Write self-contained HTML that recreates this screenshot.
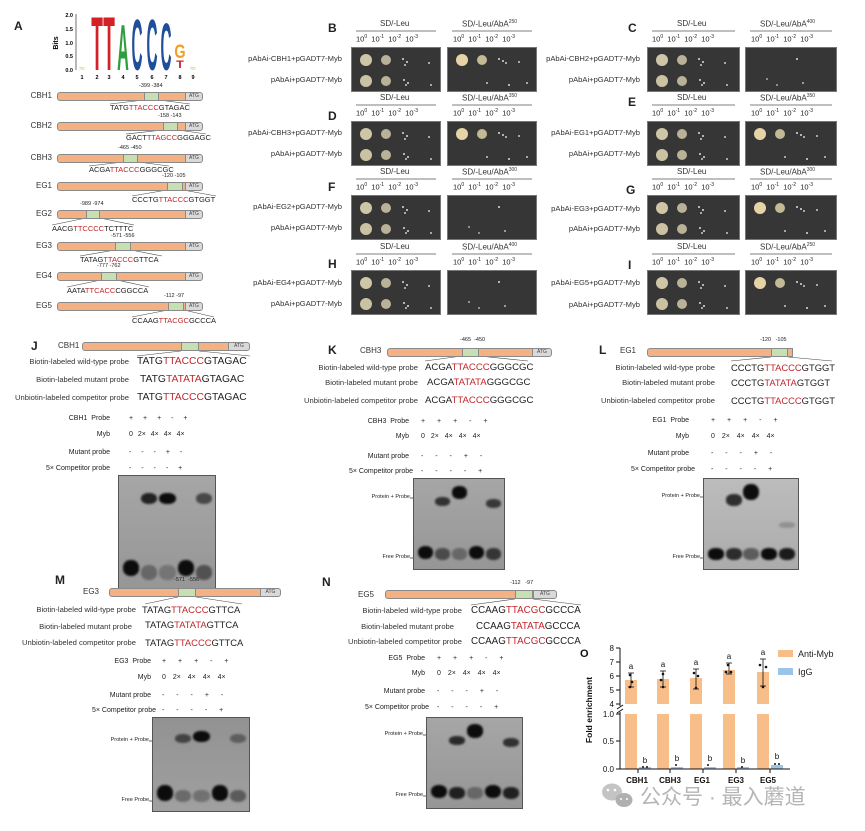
<!DOCTYPE html>
<html><head><meta charset="utf-8">
<style>
body{margin:0;background:#fff;width:865px;height:831px;position:relative;overflow:hidden;font-family:"Liberation Sans",sans-serif;color:#222}
.t{position:absolute;white-space:nowrap;line-height:1}
.r{color:#c0282d}
.L{font-weight:bold;font-size:12px}
.bar{position:absolute;background:#f4b183;border:1px solid #8a8a8a;border-radius:3px 0 0 3px;box-sizing:border-box}
.gr{position:absolute;background:#c6e0b4;border:1px solid #8a8a8a;box-sizing:border-box}
.atg{position:absolute;background:#d9d9d9;border:1px solid #8a8a8a;box-sizing:border-box;font-size:5px;color:#444;text-align:center;border-radius:0 3px 3px 0}
.p{position:absolute;width:90px;height:45px;background:#363636;border:1px solid #777;box-sizing:border-box}
.p::before{content:"";position:absolute;left:8px;top:6px;width:12px;height:12px;border-radius:50%;background:#cfc6a8}
.p::after{content:"";position:absolute;left:50px;top:10px;width:2px;height:2px;border-radius:50%;background:#ddd}
.sd::before{box-shadow:20px 0 0 -1px #b9b299,0 21px 0 0 #cbc2a3,20px 21px 0 -1px #b9b299}
.sd::after{box-shadow:4px 3px #ddd,2px 6px #ccc,26px 4px #ccc,1px 21px #ddd,5px 24px #ddd,3px 26px #ccc,28px 26px #ccc}
.pos::before{background:#e6d4a6;box-shadow:20px 0 0 -1px #c3b995}
.pos::after{box-shadow:4px 2px #ddd,7px 4px #ccc,20px 3px #ccc,-12px 24px #ccc,10px 26px #ddd,28px 24px #ccc}
.neg::before{background:transparent}
.neg::after{box-shadow:-30px 20px #aaa,6px 24px #bbb,-20px 26px #aaa}
.g{position:absolute;background:linear-gradient(#a6a6a6,#969696);border:1px solid #555;overflow:hidden;box-sizing:border-box}
.b{position:absolute;width:17%;border-radius:45%;background:#0c0c0c;filter:blur(1.1px)}
.f{top:77%;height:13%}.cx{top:15%;height:10%}
.l1{left:4%}.l2{left:23%}.l3{left:42%}.l4{left:61%}.l5{left:80%}
.sm{font-size:7px}
.lab{font-size:7.6px;color:#333}
.hd{font-size:8px;color:#333}
.ex{font-size:7.5px;color:#222}
.ex sup{font-size:5px}
.hd sup{font-size:5px}
.pl{font-size:8px;color:#333}
</style></head><body>

<div class="t L" style="left:14px;top:20px">A</div>
<svg style="position:absolute;left:0;top:0" width="865" height="831">
<g font-family="Liberation Sans" font-weight="bold">
<text x="58" y="43" font-size="7" transform="rotate(-90 58 43)" text-anchor="middle">Bits</text>
<g font-size="5.5" text-anchor="end"><text x="73" y="17">2.0</text><text x="73" y="31">1.5</text><text x="73" y="45">1.0</text><text x="73" y="58">0.5</text><text x="73" y="72">0.0</text></g>
<line x1="76" y1="14" x2="76" y2="70" stroke="#333" stroke-width="0.7"/>
<g font-size="5.5" text-anchor="middle"><text x="82" y="79">1</text><text x="97" y="79">2</text><text x="109" y="79">3</text><text x="123" y="79">4</text><text x="137" y="79">5</text><text x="152" y="79">6</text><text x="166" y="79">7</text><text x="180" y="79">8</text><text x="193" y="79">9</text></g>
<text transform="translate(97,70) scale(0.95,3.8)" font-size="20" fill="#d42027" text-anchor="middle">T</text>
<text transform="translate(109,70) scale(0.95,3.8)" font-size="20" fill="#d42027" text-anchor="middle">T</text>
<text transform="translate(123,70) scale(0.9,3.6)" font-size="18" fill="#2e9e3f" text-anchor="middle">A</text>
<text transform="translate(137,70) scale(0.85,4.0)" font-size="18" fill="#1f4e9a" text-anchor="middle">C</text>
<text transform="translate(152,70) scale(0.85,4.0)" font-size="18" fill="#1f4e9a" text-anchor="middle">C</text>
<text transform="translate(166,70) scale(0.85,3.7)" font-size="18" fill="#1f4e9a" text-anchor="middle">C</text>
<text transform="translate(180,58) scale(0.8,1.1)" font-size="18" fill="#f0a020" text-anchor="middle">G</text>
<text transform="translate(180,68) scale(0.9,0.8)" font-size="14" fill="#d42027" text-anchor="middle">T</text>
<text transform="translate(82,70) scale(1,0.5)" font-size="10" fill="#e0b040" text-anchor="middle">≈</text>
<text transform="translate(193,70) scale(1,0.5)" font-size="10" fill="#e0b040" text-anchor="middle">≈</text>
</g>
<g stroke="#444" stroke-width="0.6" fill="none">
<path d="M144 100L110 104M159 100L190 104"/>
<path d="M163 130L126 134M178 130L206 134"/>
<path d="M123 162L89 166M138 162L169 166"/>
<path d="M167 190L132 196M183 190L216 196"/>
<path d="M86 218L52 225M100 218L134 225"/>
<path d="M115 250L80 256M131 250L162 256"/>
<path d="M101 280L67 287M117 280L149 287"/>
<path d="M168 310L132 317M184 310L214 317"/>
<path d="M181 351L137 356M199 351L250 356"/>
<path d="M462 356L425 361M479 356L528 361"/>
<path d="M771 357L731 361M788 357L832 361"/>
<path d="M178 597L145 604M196 597L242 604"/>
<path d="M515 599L471 605M533 599L581 605"/>
</g>
<g stroke="#555" stroke-width="0.7">
<line x1="356" y1="31" x2="436" y2="31"/><line x1="452" y1="31" x2="532" y2="31"/>
<line x1="356" y1="105" x2="436" y2="105"/><line x1="452" y1="105" x2="532" y2="105"/>
<line x1="356" y1="179" x2="436" y2="179"/><line x1="452" y1="179" x2="532" y2="179"/>
<line x1="356" y1="254" x2="436" y2="254"/><line x1="452" y1="254" x2="532" y2="254"/>
<line x1="652" y1="31" x2="735" y2="31"/><line x1="750" y1="31" x2="832" y2="31"/>
<line x1="652" y1="105" x2="735" y2="105"/><line x1="750" y1="105" x2="832" y2="105"/>
<line x1="652" y1="179" x2="735" y2="179"/><line x1="750" y1="179" x2="832" y2="179"/>
<line x1="652" y1="254" x2="735" y2="254"/><line x1="750" y1="254" x2="832" y2="254"/>
</g>
<g stroke="#222" stroke-width="0.7">
<line x1="410" y1="498" x2="414" y2="498"/><line x1="410" y1="558" x2="414" y2="558"/>
<line x1="700" y1="497" x2="704" y2="497"/><line x1="700" y1="558" x2="704" y2="558"/>
<line x1="149" y1="741" x2="153" y2="741"/><line x1="149" y1="801" x2="153" y2="801"/>
<line x1="423" y1="735" x2="427" y2="735"/><line x1="423" y1="796" x2="427" y2="796"/>
</g>
<g font-family="Liberation Sans">
<g fill="#f7be8a">
<rect x="625" y="680" width="12" height="24"/><rect x="625" y="714" width="12" height="55"/>
<rect x="657" y="679" width="12" height="25"/><rect x="657" y="714" width="12" height="55"/>
<rect x="690" y="678" width="12" height="26"/><rect x="690" y="714" width="12" height="55"/>
<rect x="723" y="670" width="12" height="34"/><rect x="723" y="714" width="12" height="55"/>
<rect x="757" y="672" width="12" height="32"/><rect x="757" y="714" width="12" height="55"/>
</g>
<g fill="#9dc3e6"><rect x="639" y="767" width="12" height="2"/><rect x="671" y="767" width="12" height="2"/><rect x="704" y="767" width="12" height="2"/><rect x="737" y="767" width="12" height="2"/><rect x="771" y="765" width="12" height="4"/></g>
<g stroke="#111" stroke-width="0.8">
<line x1="631" y1="673" x2="631" y2="687"/><line x1="628" y1="673" x2="634" y2="673"/><line x1="628" y1="687" x2="634" y2="687"/>
<line x1="663" y1="671" x2="663" y2="687"/><line x1="660" y1="671" x2="666" y2="671"/><line x1="660" y1="687" x2="666" y2="687"/>
<line x1="696" y1="669" x2="696" y2="689"/><line x1="693" y1="669" x2="699" y2="669"/><line x1="693" y1="689" x2="699" y2="689"/>
<line x1="729" y1="663" x2="729" y2="674"/><line x1="726" y1="663" x2="732" y2="663"/><line x1="726" y1="674" x2="732" y2="674"/>
<line x1="763" y1="659" x2="763" y2="686"/><line x1="760" y1="659" x2="766" y2="659"/><line x1="760" y1="686" x2="766" y2="686"/>
</g>
<g fill="#111">
<circle cx="630" cy="675" r="1.3"/><circle cx="632" cy="682" r="1.3"/><circle cx="630" cy="687" r="1.3"/>
<circle cx="663" cy="674" r="1.3"/><circle cx="661" cy="680" r="1.3"/><circle cx="663" cy="687" r="1.3"/>
<circle cx="694" cy="673" r="1.3"/><circle cx="698" cy="676" r="1.3"/><circle cx="696" cy="688" r="1.3"/>
<circle cx="728" cy="665" r="1.3"/><circle cx="726" cy="672" r="1.3"/><circle cx="731" cy="672" r="1.3"/>
<circle cx="760" cy="665" r="1.3"/><circle cx="766" cy="667" r="1.3"/><circle cx="763" cy="687" r="1.3"/>
<circle cx="643" cy="767" r="1"/><circle cx="647" cy="767" r="1"/><circle cx="676" cy="765" r="1"/><circle cx="708" cy="765" r="1"/><circle cx="742" cy="767" r="1"/><circle cx="775" cy="764" r="1"/><circle cx="779" cy="764" r="1"/>
</g>
<g stroke="#111" stroke-width="1" fill="none">
<line x1="620" y1="648" x2="620" y2="706"/><line x1="620" y1="712" x2="620" y2="769"/>
<line x1="617" y1="709" x2="623" y2="705"/><line x1="617" y1="713" x2="623" y2="709"/>
<line x1="620" y1="769" x2="790" y2="769"/>
<line x1="616" y1="648" x2="620" y2="648"/><line x1="616" y1="662" x2="620" y2="662"/><line x1="616" y1="676" x2="620" y2="676"/><line x1="616" y1="690" x2="620" y2="690"/><line x1="616" y1="704" x2="620" y2="704"/>
<line x1="616" y1="714" x2="620" y2="714"/><line x1="616" y1="741" x2="620" y2="741"/><line x1="616" y1="769" x2="620" y2="769"/>
<line x1="638" y1="769" x2="638" y2="773"/><line x1="670" y1="769" x2="670" y2="773"/><line x1="703" y1="769" x2="703" y2="773"/><line x1="736" y1="769" x2="736" y2="773"/><line x1="770" y1="769" x2="770" y2="773"/>
</g>
<g font-size="8" text-anchor="end" fill="#111"><text x="614" y="651">8</text><text x="614" y="665">7</text><text x="614" y="679">6</text><text x="614" y="693">5</text><text x="614" y="707">4</text><text x="614" y="717">1.0</text><text x="614" y="744">0.5</text><text x="614" y="772">0.0</text></g>
<g font-size="8" text-anchor="middle" fill="#111"><text x="631" y="669">a</text><text x="663" y="667">a</text><text x="696" y="665">a</text><text x="729" y="659">a</text><text x="763" y="655">a</text>
<text x="645" y="763">b</text><text x="677" y="761">b</text><text x="710" y="761">b</text><text x="743" y="763">b</text><text x="777" y="759">b</text></g>
<g font-size="8" font-weight="bold" text-anchor="middle" fill="#111"><text x="637" y="783">CBH1</text><text x="670" y="783">CBH3</text><text x="702" y="783">EG1</text><text x="736" y="783">EG3</text><text x="768" y="783">EG5</text></g>
<text x="592" y="710" font-size="8.5" font-weight="bold" text-anchor="middle" transform="rotate(-90 592 710)" fill="#111">Fold enrichment</text>
<text x="580" y="657" font-size="11" font-weight="bold" fill="#111">O</text>
<rect x="778" y="650" width="15" height="7" fill="#f7be8a"/><text x="798" y="657" font-size="9" fill="#222">Anti-Myb</text>
<rect x="778" y="668" width="15" height="7" fill="#9dc3e6"/><text x="798" y="675" font-size="9" fill="#222">IgG</text>
</g>
<g fill="#c4c4c4"><ellipse cx="612" cy="792" rx="10" ry="8.5"/><ellipse cx="624" cy="800" rx="8.5" ry="7" fill="#b0b0b0"/></g>
<g fill="#fff"><circle cx="608" cy="790" r="1.3"/><circle cx="615" cy="790" r="1.3"/><circle cx="621" cy="799" r="1"/><circle cx="627" cy="799" r="1"/></g>
</svg>

<div class="t pl" style="right:813px;top:92px">CBH1</div>
<div class="bar" style="left:57px;top:92px;width:130px;height:9px"></div><div class="gr" style="left:144px;top:92px;width:15px;height:9px"></div><div class="atg" style="left:185px;top:92px;width:18px;height:9px">ATG</div>
<div class="t" style="left:139px;top:84px;font-size:5.5px">-399 -384</div>
<div class="t" style="left:110px;top:104px;font-size:7.5px">TATG<span class="r">TTACCC</span>GTAGAC</div>

<div class="t pl" style="right:813px;top:122px">CBH2</div>
<div class="bar" style="left:57px;top:122px;width:130px;height:9px"></div><div class="gr" style="left:163px;top:122px;width:15px;height:9px"></div><div class="atg" style="left:185px;top:122px;width:18px;height:9px">ATG</div>
<div class="t" style="left:158px;top:114px;font-size:5.5px">-158 -143</div>
<div class="t" style="left:126px;top:134px;font-size:7.5px">GACT<span class="r">TTAGCC</span>GGGAGC</div>

<div class="t pl" style="right:813px;top:154px">CBH3</div>
<div class="bar" style="left:57px;top:154px;width:130px;height:9px"></div><div class="gr" style="left:123px;top:154px;width:15px;height:9px"></div><div class="atg" style="left:185px;top:154px;width:18px;height:9px">ATG</div>
<div class="t" style="left:118px;top:146px;font-size:5.5px">-465 -450</div>
<div class="t" style="left:89px;top:166px;font-size:7.5px">ACGA<span class="r">TTACCC</span>GGGCGC</div>

<div class="t pl" style="right:813px;top:182px">EG1</div>
<div class="bar" style="left:57px;top:182px;width:130px;height:9px"></div><div class="gr" style="left:167px;top:182px;width:16px;height:9px"></div><div class="atg" style="left:185px;top:182px;width:18px;height:9px">ATG</div>
<div class="t" style="left:162px;top:174px;font-size:5.5px">-120 -105</div>
<div class="t" style="left:132px;top:196px;font-size:7.5px">CCCTG<span class="r">TTACCC</span>GTGGT</div>

<div class="t pl" style="right:813px;top:210px">EG2</div>
<div class="bar" style="left:57px;top:210px;width:130px;height:9px"></div><div class="gr" style="left:86px;top:210px;width:14px;height:9px"></div><div class="atg" style="left:185px;top:210px;width:18px;height:9px">ATG</div>
<div class="t" style="left:80px;top:202px;font-size:5.5px">-989 -974</div>
<div class="t" style="left:52px;top:225px;font-size:7.5px">AACG<span class="r">TTCCCC</span>TCTTTC</div>

<div class="t pl" style="right:813px;top:242px">EG3</div>
<div class="bar" style="left:57px;top:242px;width:130px;height:9px"></div><div class="gr" style="left:115px;top:242px;width:16px;height:9px"></div><div class="atg" style="left:185px;top:242px;width:18px;height:9px">ATG</div>
<div class="t" style="left:111px;top:234px;font-size:5.5px">-571 -556</div>
<div class="t" style="left:80px;top:256px;font-size:7.5px">TATAG<span class="r">TTACCC</span>GTTCA</div>

<div class="t pl" style="right:813px;top:272px">EG4</div>
<div class="bar" style="left:57px;top:272px;width:130px;height:9px"></div><div class="gr" style="left:101px;top:272px;width:16px;height:9px"></div><div class="atg" style="left:185px;top:272px;width:18px;height:9px">ATG</div>
<div class="t" style="left:97px;top:264px;font-size:5.5px">-777 -762</div>
<div class="t" style="left:67px;top:287px;font-size:7.5px">AATA<span class="r">TTCACC</span>CGGCCA</div>

<div class="t pl" style="right:813px;top:302px">EG5</div>
<div class="bar" style="left:57px;top:302px;width:130px;height:9px"></div><div class="gr" style="left:168px;top:302px;width:16px;height:9px"></div><div class="atg" style="left:185px;top:302px;width:18px;height:9px">ATG</div>
<div class="t" style="left:164px;top:294px;font-size:5.5px">-112 -97</div>
<div class="t" style="left:132px;top:317px;font-size:7.5px">CCAAG<span class="r">TTACGC</span>GCCCA</div>

<div class="t L" style="left:328px;top:22px">B</div>
<div class="t hd" style="left:380px;top:20px">SD/-Leu</div><div class="t hd" style="left:462px;top:20px">SD/-Leu/AbA<sup>250</sup></div>
<div class="t ex" style="left:356px;top:35px">10<sup>0</sup>&nbsp; 10<sup>-1</sup>&nbsp; 10<sup>-2</sup>&nbsp; 10<sup>-3</sup></div><div class="t ex" style="left:453px;top:35px">10<sup>0</sup>&nbsp; 10<sup>-1</sup>&nbsp; 10<sup>-2</sup>&nbsp; 10<sup>-3</sup></div>
<div class="t lab" style="right:523px;top:55px">pAbAi-CBH1+pGADT7-Myb</div><div class="t lab" style="right:523px;top:76px">pAbAi+pGADT7-Myb</div>
<div class="p sd" style="left:351px;top:47px"></div><div class="p pos" style="left:447px;top:47px"></div>

<div class="t L" style="left:328px;top:110px">D</div>
<div class="t hd" style="left:380px;top:94px">SD/-Leu</div><div class="t hd" style="left:462px;top:94px">SD/-Leu/AbA<sup>350</sup></div>
<div class="t ex" style="left:356px;top:109px">10<sup>0</sup>&nbsp; 10<sup>-1</sup>&nbsp; 10<sup>-2</sup>&nbsp; 10<sup>-3</sup></div><div class="t ex" style="left:453px;top:109px">10<sup>0</sup>&nbsp; 10<sup>-1</sup>&nbsp; 10<sup>-2</sup>&nbsp; 10<sup>-3</sup></div>
<div class="t lab" style="right:523px;top:129px">pAbAi-CBH3+pGADT7-Myb</div><div class="t lab" style="right:523px;top:150px">pAbAi+pGADT7-Myb</div>
<div class="p sd" style="left:351px;top:121px"></div><div class="p pos" style="left:447px;top:121px"></div>

<div class="t L" style="left:328px;top:181px">F</div>
<div class="t hd" style="left:380px;top:168px">SD/-Leu</div><div class="t hd" style="left:462px;top:168px">SD/-Leu/AbA<sup>300</sup></div>
<div class="t ex" style="left:356px;top:183px">10<sup>0</sup>&nbsp; 10<sup>-1</sup>&nbsp; 10<sup>-2</sup>&nbsp; 10<sup>-3</sup></div><div class="t ex" style="left:453px;top:183px">10<sup>0</sup>&nbsp; 10<sup>-1</sup>&nbsp; 10<sup>-2</sup>&nbsp; 10<sup>-3</sup></div>
<div class="t lab" style="right:523px;top:203px">pAbAi-EG2+pGADT7-Myb</div><div class="t lab" style="right:523px;top:224px">pAbAi+pGADT7-Myb</div>
<div class="p sd" style="left:351px;top:195px"></div><div class="p neg" style="left:447px;top:195px"></div>

<div class="t L" style="left:328px;top:258px">H</div>
<div class="t hd" style="left:380px;top:243px">SD/-Leu</div><div class="t hd" style="left:462px;top:243px">SD/-Leu/AbA<sup>400</sup></div>
<div class="t ex" style="left:356px;top:258px">10<sup>0</sup>&nbsp; 10<sup>-1</sup>&nbsp; 10<sup>-2</sup>&nbsp; 10<sup>-3</sup></div><div class="t ex" style="left:453px;top:258px">10<sup>0</sup>&nbsp; 10<sup>-1</sup>&nbsp; 10<sup>-2</sup>&nbsp; 10<sup>-3</sup></div>
<div class="t lab" style="right:523px;top:279px">pAbAi-EG4+pGADT7-Myb</div><div class="t lab" style="right:523px;top:300px">pAbAi+pGADT7-Myb</div>
<div class="p sd" style="left:351px;top:270px"></div><div class="p neg" style="left:447px;top:270px"></div>

<div class="t L" style="left:628px;top:22px">C</div>
<div class="t hd" style="left:677px;top:20px">SD/-Leu</div><div class="t hd" style="left:760px;top:20px">SD/-Leu/AbA<sup>400</sup></div>
<div class="t ex" style="left:652px;top:35px">10<sup>0</sup>&nbsp; 10<sup>-1</sup>&nbsp; 10<sup>-2</sup>&nbsp; 10<sup>-3</sup></div><div class="t ex" style="left:751px;top:35px">10<sup>0</sup>&nbsp; 10<sup>-1</sup>&nbsp; 10<sup>-2</sup>&nbsp; 10<sup>-3</sup></div>
<div class="t lab" style="right:225px;top:55px">pAbAi-CBH2+pGADT7-Myb</div><div class="t lab" style="right:225px;top:76px">pAbAi+pGADT7-Myb</div>
<div class="p sd" style="left:647px;top:47px;width:93px"></div><div class="p neg" style="left:745px;top:47px;width:92px"></div>

<div class="t L" style="left:628px;top:96px">E</div>
<div class="t hd" style="left:677px;top:94px">SD/-Leu</div><div class="t hd" style="left:760px;top:94px">SD/-Leu/AbA<sup>350</sup></div>
<div class="t ex" style="left:652px;top:109px">10<sup>0</sup>&nbsp; 10<sup>-1</sup>&nbsp; 10<sup>-2</sup>&nbsp; 10<sup>-3</sup></div><div class="t ex" style="left:751px;top:109px">10<sup>0</sup>&nbsp; 10<sup>-1</sup>&nbsp; 10<sup>-2</sup>&nbsp; 10<sup>-3</sup></div>
<div class="t lab" style="right:225px;top:129px">pAbAi-EG1+pGADT7-Myb</div><div class="t lab" style="right:225px;top:150px">pAbAi+pGADT7-Myb</div>
<div class="p sd" style="left:647px;top:121px;width:93px"></div><div class="p pos" style="left:745px;top:121px;width:92px"></div>

<div class="t L" style="left:626px;top:184px">G</div>
<div class="t hd" style="left:677px;top:168px">SD/-Leu</div><div class="t hd" style="left:760px;top:168px">SD/-Leu/AbA<sup>300</sup></div>
<div class="t ex" style="left:652px;top:183px">10<sup>0</sup>&nbsp; 10<sup>-1</sup>&nbsp; 10<sup>-2</sup>&nbsp; 10<sup>-3</sup></div><div class="t ex" style="left:751px;top:183px">10<sup>0</sup>&nbsp; 10<sup>-1</sup>&nbsp; 10<sup>-2</sup>&nbsp; 10<sup>-3</sup></div>
<div class="t lab" style="right:225px;top:205px">pAbAi-EG3+pGADT7-Myb</div><div class="t lab" style="right:225px;top:225px">pAbAi+pGADT7-Myb</div>
<div class="p sd" style="left:647px;top:195px;width:93px"></div><div class="p pos" style="left:745px;top:195px;width:92px"></div>

<div class="t L" style="left:628px;top:259px">I</div>
<div class="t hd" style="left:677px;top:243px">SD/-Leu</div><div class="t hd" style="left:760px;top:243px">SD/-Leu/AbA<sup>250</sup></div>
<div class="t ex" style="left:652px;top:258px">10<sup>0</sup>&nbsp; 10<sup>-1</sup>&nbsp; 10<sup>-2</sup>&nbsp; 10<sup>-3</sup></div><div class="t ex" style="left:751px;top:258px">10<sup>0</sup>&nbsp; 10<sup>-1</sup>&nbsp; 10<sup>-2</sup>&nbsp; 10<sup>-3</sup></div>
<div class="t lab" style="right:225px;top:279px">pAbAi-EG5+pGADT7-Myb</div><div class="t lab" style="right:225px;top:301px">pAbAi+pGADT7-Myb</div>
<div class="p sd" style="left:647px;top:270px;width:93px"></div><div class="p pos" style="left:745px;top:270px;width:92px"></div>

<div class="t L" style="left:31px;top:340px">J</div>
<div class="t pl" style="left:58px;top:342px">CBH1</div>
<div class="bar" style="left:82px;top:342px;width:148px;height:9px"></div><div class="gr" style="left:181px;top:342px;width:18px;height:9px"></div><div class="atg" style="left:228px;top:342px;width:22px;height:9px">ATG</div>
<div class="t lab" style="right:736px;top:358px">Biotin-labeled wild-type probe</div>
<div class="t lab" style="right:736px;top:376px">Biotin-labeled mutant probe</div>
<div class="t lab" style="right:736px;top:394px">Unbiotin-labeled competitor probe</div>
<div class="t" style="left:137px;top:357px;font-size:10.3px">TATG<span class="r">TTACCC</span>GTAGAC</div>
<div class="t" style="left:140px;top:375px;font-size:10.3px">TATG<span class="r">TATATA</span>GTAGAC</div>
<div class="t" style="left:137px;top:393px;font-size:10.3px">TATG<span class="r">TTACCC</span>GTAGAC</div>
<div class="t sm" style="right:755px;top:415px">CBH1&nbsp; Probe</div><div class="t sm" style="right:755px;top:431px">Myb</div><div class="t sm" style="right:755px;top:449px">Mutant probe</div><div class="t sm" style="right:755px;top:465px">5× Competitor probe</div>
<div class="t sm" style="left:129px;top:415px;word-spacing:8px">+ + + - +</div>
<div class="t sm" style="left:129px;top:431px;word-spacing:3px">0 2× 4× 4× 4×</div>
<div class="t sm" style="left:129px;top:449px;word-spacing:8px">- - - + -</div>
<div class="t sm" style="left:129px;top:465px;word-spacing:8px">- - - - +</div>
<div class="g" style="left:118px;top:475px;width:98px;height:116px"><i class="b f l1" style="top:74%;height:14%"></i><i class="b f l2" style="opacity:.35;top:78%"></i><i class="b f l3" style="opacity:.25;top:78%"></i><i class="b f l4" style="top:74%;height:14%"></i><i class="b f l5" style="opacity:.5;top:78%"></i><i class="b cx l2" style="opacity:.85"></i><i class="b cx l3"></i><i class="b cx l5" style="opacity:.6"></i></div>

<div class="t L" style="left:328px;top:344px">K</div>
<div class="t pl" style="left:360px;top:347px">CBH3</div>
<div class="t" style="left:460px;top:338px;font-size:5.5px">-465&nbsp; -450</div>
<div class="bar" style="left:387px;top:348px;width:147px;height:9px"></div><div class="gr" style="left:462px;top:348px;width:17px;height:9px"></div><div class="atg" style="left:532px;top:348px;width:20px;height:9px">ATG</div>
<div class="t lab" style="right:447px;top:364px">Biotin-labeled wild-type probe</div>
<div class="t lab" style="right:447px;top:379px">Biotin-labeled mutant probe</div>
<div class="t lab" style="right:447px;top:397px">Unbiotin-labeled competitor probe</div>
<div class="t" style="left:425px;top:363px;font-size:9.6px">ACGA<span class="r">TTACCC</span>GGGCGC</div>
<div class="t" style="left:427px;top:378px;font-size:9.6px">ACGA<span class="r">TATATA</span>GGGCGC</div>
<div class="t" style="left:425px;top:396px;font-size:9.6px">ACGA<span class="r">TTACCC</span>GGGCGC</div>
<div class="t sm" style="right:456px;top:418px">CBH3&nbsp; Probe</div><div class="t sm" style="right:456px;top:433px">Myb</div><div class="t sm" style="right:456px;top:453px">Mutant probe</div><div class="t sm" style="right:452px;top:468px">5× Competitor probe</div>
<div class="t sm" style="left:421px;top:418px;word-spacing:10px">+ + + - +</div>
<div class="t sm" style="left:421px;top:433px;word-spacing:4px">0 2× 4× 4× 4×</div>
<div class="t sm" style="left:421px;top:453px;word-spacing:10px">- - - + -</div>
<div class="t sm" style="left:421px;top:468px;word-spacing:10px">- - - - +</div>
<div class="t" style="right:455px;top:495px;font-size:5.5px">Protein + Probe</div><div class="t" style="right:455px;top:555px;font-size:5.5px">Free Probe</div>
<div class="g" style="left:413px;top:478px;width:92px;height:92px"><i class="b f l1" style="top:74%;height:15%"></i><i class="b f l2" style="opacity:.55"></i><i class="b f l3" style="opacity:.35"></i><i class="b f l4" style="top:74%;height:15%"></i><i class="b f l5" style="opacity:.7"></i><i class="b cx l2" style="opacity:.75;top:20%"></i><i class="b cx l3" style="top:8%;height:14%"></i><i class="b cx l5" style="opacity:.7;top:22%"></i></div>

<div class="t L" style="left:599px;top:344px">L</div>
<div class="t pl" style="left:620px;top:347px">EG1</div>
<div class="t" style="left:760px;top:338px;font-size:5.5px">-120&nbsp;&nbsp; -105</div>
<div class="bar" style="left:647px;top:348px;width:146px;height:9px"></div><div class="gr" style="left:771px;top:348px;width:17px;height:9px"></div>
<div class="t lab" style="right:150px;top:364px">Biotin-labeled wild-type probe</div>
<div class="t lab" style="right:150px;top:379px">Biotin-labeled mutant probe</div>
<div class="t lab" style="right:150px;top:397px">Unbiotin-labeled competitor probe</div>
<div class="t" style="left:731px;top:363px;font-size:9.4px">CCCTG<span class="r">TTACCC</span>GTGGT</div>
<div class="t" style="left:731px;top:378px;font-size:9.4px">CCCTG<span class="r">TATATA</span>GTGGT</div>
<div class="t" style="left:731px;top:396px;font-size:9.4px">CCCTG<span class="r">TTACCC</span>GTGGT</div>
<div class="t sm" style="right:176px;top:417px">EG1&nbsp; Probe</div><div class="t sm" style="right:176px;top:433px">Myb</div><div class="t sm" style="right:176px;top:450px">Mutant probe</div><div class="t sm" style="right:170px;top:466px">5× Competitor probe</div>
<div class="t sm" style="left:711px;top:417px;word-spacing:10px">+ + + - +</div>
<div class="t sm" style="left:711px;top:433px;word-spacing:5px">0 2× 4× 4× 4×</div>
<div class="t sm" style="left:711px;top:450px;word-spacing:10px">- - - + -</div>
<div class="t sm" style="left:711px;top:466px;word-spacing:10px">- - - - +</div>
<div class="t" style="right:165px;top:494px;font-size:5.5px">Protein + Probe</div><div class="t" style="right:165px;top:555px;font-size:5.5px">Free Probe</div>
<div class="g" style="left:703px;top:478px;width:96px;height:92px;background:linear-gradient(#bcbcbc,#acacac)"><i class="b f l1"></i><i class="b f l2" style="opacity:.8"></i><i class="b f l3" style="opacity:.5"></i><i class="b f l4"></i><i class="b f l5" style="opacity:.9"></i><i class="b cx l2" style="top:17%;height:13%;opacity:.8"></i><i class="b cx l3" style="top:5%;height:18%"></i><i class="b l5" style="top:48%;height:6%;opacity:.2"></i></div>

<div class="t L" style="left:55px;top:574px">M</div>
<div class="t pl" style="left:83px;top:588px">EG3</div>
<div class="t" style="left:174px;top:578px;font-size:5.5px">-571&nbsp; -556</div>
<div class="bar" style="left:109px;top:588px;width:153px;height:9px"></div><div class="gr" style="left:178px;top:588px;width:18px;height:9px"></div><div class="atg" style="left:260px;top:588px;width:21px;height:9px">ATG</div>
<div class="t lab" style="right:729px;top:606px">Biotin-labeled wild-type probe</div>
<div class="t lab" style="right:733px;top:623px">Biotin-labeled mutant probe</div>
<div class="t lab" style="right:729px;top:639px">Unbiotin-labeled competitor probe</div>
<div class="t" style="left:142px;top:605px;font-size:9.4px">TATAG<span class="r">TTACCC</span>GTTCA</div>
<div class="t" style="left:145px;top:620px;font-size:9.4px">TATAG<span class="r">TATATA</span>GTTCA</div>
<div class="t" style="left:145px;top:638px;font-size:9.4px">TATAG<span class="r">TTACCC</span>GTTCA</div>
<div class="t sm" style="right:714px;top:658px">EG3&nbsp; Probe</div><div class="t sm" style="right:714px;top:674px">Myb</div><div class="t sm" style="right:714px;top:692px">Mutant probe</div><div class="t sm" style="right:709px;top:707px">5× Competitor probe</div>
<div class="t sm" style="left:162px;top:658px;word-spacing:10px">+ + + - +</div>
<div class="t sm" style="left:162px;top:674px;word-spacing:5px">0 2× 4× 4× 4×</div>
<div class="t sm" style="left:162px;top:692px;word-spacing:10px">- - - + -</div>
<div class="t sm" style="left:162px;top:707px;word-spacing:10px">- - - - +</div>
<div class="t" style="right:716px;top:738px;font-size:5.5px">Protein + Probe</div><div class="t" style="right:716px;top:798px;font-size:5.5px">Free Probe</div>
<div class="g" style="left:152px;top:717px;width:98px;height:95px;background:linear-gradient(#929292,#a0a0a0)"><i class="b f l1" style="top:72%;height:17%"></i><i class="b f l2" style="opacity:.35"></i><i class="b f l3" style="opacity:.3"></i><i class="b f l4" style="top:72%;height:17%"></i><i class="b f l5" style="opacity:.45"></i><i class="b cx l2" style="opacity:.6;top:17%"></i><i class="b cx l3" style="top:14%;height:12%"></i><i class="b cx l5" style="opacity:.4;top:17%"></i></div>

<div class="t L" style="left:322px;top:576px">N</div>
<div class="t pl" style="left:358px;top:591px">EG5</div>
<div class="t" style="left:510px;top:581px;font-size:5.5px">-112&nbsp;&nbsp; -97</div>
<div class="bar" style="left:385px;top:590px;width:150px;height:9px"></div><div class="gr" style="left:515px;top:590px;width:18px;height:9px"></div><div class="atg" style="left:533px;top:590px;width:24px;height:9px">ATG</div>
<div class="t lab" style="right:403px;top:607px">Biotin-labeled wild-type probe</div>
<div class="t lab" style="right:411px;top:623px">Biotin-labeled mutant probe</div>
<div class="t lab" style="right:403px;top:638px">Unbiotin-labeled competitor probe</div>
<div class="t" style="left:471px;top:606px;font-size:9.8px">CCAAG<span class="r">TTACGC</span>GCCCA</div>
<div class="t" style="left:476px;top:622px;font-size:9.8px">CCAAG<span class="r">TATATA</span>GCCCA</div>
<div class="t" style="left:471px;top:637px;font-size:9.8px">CCAAG<span class="r">TTACGC</span>GCCCA</div>
<div class="t sm" style="right:440px;top:655px">EG5&nbsp; Probe</div><div class="t sm" style="right:440px;top:670px">Myb</div><div class="t sm" style="right:440px;top:688px">Mutant probe</div><div class="t sm" style="right:436px;top:704px">5× Competitor probe</div>
<div class="t sm" style="left:437px;top:655px;word-spacing:10px">+ + + - +</div>
<div class="t sm" style="left:437px;top:670px;word-spacing:5px">0 2× 4× 4× 4×</div>
<div class="t sm" style="left:437px;top:688px;word-spacing:10px">- - - + -</div>
<div class="t sm" style="left:437px;top:704px;word-spacing:10px">- - - - +</div>
<div class="t" style="right:442px;top:732px;font-size:5.5px">Protein + Probe</div><div class="t" style="right:442px;top:793px;font-size:5.5px">Free Probe</div>
<div class="g" style="left:426px;top:717px;width:97px;height:92px"><i class="b f l1" style="top:74%;height:15%"></i><i class="b f l2" style="opacity:.85"></i><i class="b f l3" style="opacity:.35"></i><i class="b f l4" style="top:74%;height:15%"></i><i class="b f l5" style="opacity:.85"></i><i class="b cx l2" style="opacity:.8;top:20%"></i><i class="b cx l3" style="top:7%;height:15%"></i><i class="b cx l5" style="opacity:.75;top:22%"></i></div>

<div class="t" style="left:640px;top:787px;font-size:21px;color:#b5b5b5;font-family:'Liberation Sans','Noto Sans CJK SC',sans-serif">公众号 · 最入蘑道</div>
</body></html>
